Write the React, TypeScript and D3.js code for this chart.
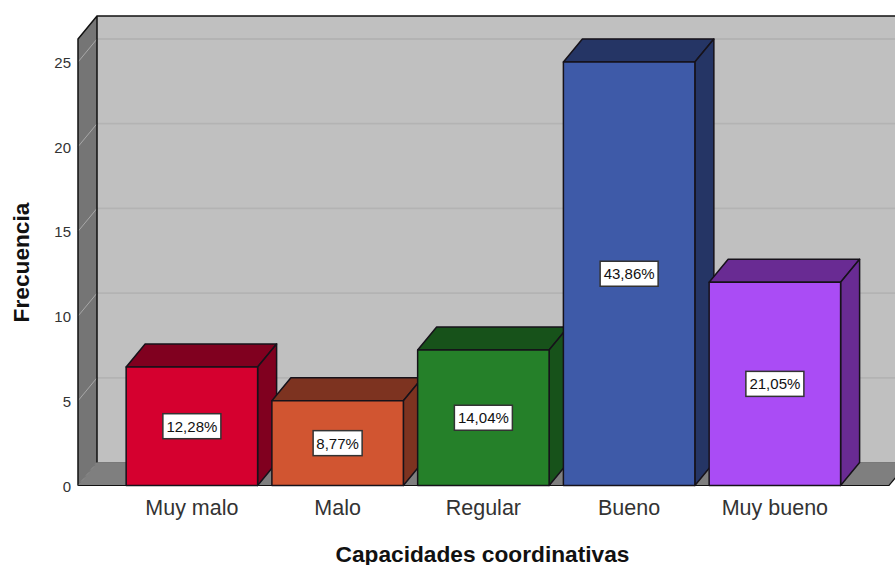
import React from "react";
import * as d3 from "d3";

const categories = ["Muy malo", "Malo", "Regular", "Bueno", "Muy bueno"];
const counts = [7, 5, 8, 25, 12];
const percents = ["12,28%", "8,77%", "14,04%", "43,86%", "21,05%"];
const frontColors = ["#d5002f", "#d15531", "#258029", "#3e5aa8", "#aa4cf5"];
const sideColors = ["#80001f", "#7d3320", "#17521a", "#253565", "#692b93"];
const yTicks = [0, 5, 10, 15, 20, 25];

const W = 895, H = 565;
const DX = 19, DY = -23;
const font = "'Liberation Sans', Arial, sans-serif";

const y = d3.scaleLinear().domain([0, 25]).range([485.5, 62]);
const x = d3.scaleBand<string>().domain(categories).range([119, 847.75]).paddingInner(0.098).paddingOuter(0.049);
const left = 78, right = 889;
const top = 39;
const pts = (p: number[][]) => p.map((d) => d.join(",")).join(" ");

export default function App() {
  const y0 = y(0);
  return (
    <svg width={W} height={H} viewBox={`0 0 ${W} ${H}`} style={{ position: "absolute", left: 0, top: 0, background: "#fff" }}>
      {/* back wall */}
      <rect x={left + DX} y={top + DY} width={W} height={y0 - top} fill="#c0c0c0" />
      {/* side wall */}
      <polygon points={pts([[left, top], [left + DX, top + DY], [left + DX, y0 + DY], [left, y0]])} fill="#757575" />
      {/* floor */}
      <polygon points={pts([[left, y0], [left + DX, y0 + DY], [right + DX, y0 + DY], [right, y0]])} fill="#7f7f7f" />
      {/* gridlines */}
      {yTicks.filter((t) => t > 0).map((t) => (
        <line key={t} x1={left + DX} x2={W} y1={y(t) + DY} y2={y(t) + DY} stroke="#b3b3b3" strokeWidth={1.8} />
      ))}
      {yTicks.map((t) => (
        <line key={t} x1={left} x2={left + DX} y1={y(t)} y2={y(t) + DY} stroke="#a8a8a8" strokeWidth={1} />
      ))}
      {/* frame */}
      <path d={`M${left},${y0}V${top}L${left + DX},${top + DY}H${W}M${left + DX},${top + DY}V${y0 + DY}`} fill="none" stroke="#111" strokeWidth={1.5} />
      <path d={`M${left},${y0}H${right}L${right + DX},${y0 + DY}`} fill="none" stroke="#111" strokeWidth={1.2} />
      <path d={`M${left},${y0}L${left + DX},${y0 + DY}H${W}`} fill="none" stroke="#555" strokeWidth={0.6} />
      {/* bars */}
      {categories.map((c, i) => {
        const x0 = x(c)!, w = x.bandwidth(), yt = y(counts[i]);
        return (
          <g key={c} stroke="#16121a" strokeWidth={1.5} strokeLinejoin="round">
            <polygon points={pts([[x0, yt], [x0 + DX, yt + DY], [x0 + w + DX, yt + DY], [x0 + w, yt]])} fill={sideColors[i]} />
            <polygon points={pts([[x0 + w, yt], [x0 + w + DX, yt + DY], [x0 + w + DX, y0 + DY], [x0 + w, y0]])} fill={sideColors[i]} />
            <rect x={x0} y={yt} width={w} height={y0 - yt} fill={frontColors[i]} />
          </g>
        );
      })}
      {/* value labels */}
      {categories.map((c, i) => {
        const cx = x(c)! + x.bandwidth() / 2, cy = (y(counts[i]) + y0) / 2;
        const bw = percents[i].length === 5 ? 49 : 58;
        return (
          <g key={c}>
            <rect x={cx - bw / 2} y={cy - 12.5} width={bw} height={25} fill="#fff" stroke="#333" strokeWidth={1.5} />
            <text x={cx} y={cy + 5.5} textAnchor="middle" fontFamily={font} fontSize={15} fill="#111">{percents[i]}</text>
          </g>
        );
      })}
      {/* y tick labels */}
      {yTicks.map((t) => (
        <text key={t} x={71} y={y(t) + 6} textAnchor="end" fontFamily={font} fontSize={15} fill="#333">{t}</text>
      ))}
      {/* category labels */}
      {categories.map((c) => (
        <text key={c} x={x(c)! + x.bandwidth() / 2} y={515} textAnchor="middle" fontFamily={font} fontSize={21.5} fill="#333">{c}</text>
      ))}
      <text x={482.5} y={562} textAnchor="middle" fontFamily={font} fontSize={22.7} fontWeight="bold" fill="#111">Capacidades coordinativas</text>
      <text transform="translate(29,262.5) rotate(-90)" textAnchor="middle" fontFamily={font} fontSize={22.7} fontWeight="bold" fill="#111">Frecuencia</text>
    </svg>
  );
}
